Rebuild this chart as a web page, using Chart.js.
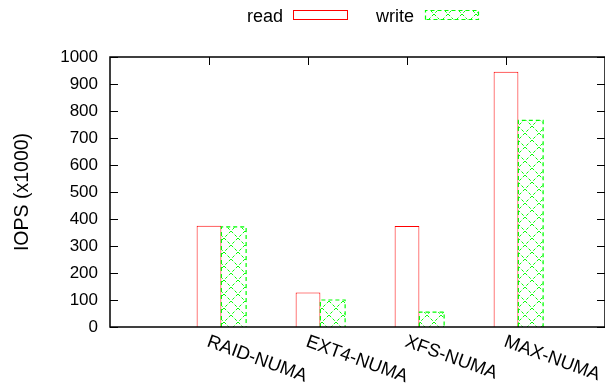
<!DOCTYPE html>
<html>
<head>
<meta charset="utf-8">
<script src="https://cdn.jsdelivr.net/npm/chart.js@4"></script>
<style>
  html, body { margin: 0; padding: 0; background: #fff; }
  canvas { display: block; }
</style>
</head>
<body>
<canvas id="chart" width="605" height="383"></canvas>
<script>
// IOPS per configuration, thousands of operations per second
const categories = ['RAID-NUMA', 'EXT4-NUMA', 'XFS-NUMA', 'MAX-NUMA'];
const readIops = [375, 128, 374, 945];
const writeIops = [371, 100, 55, 765];
const seriesNames = ['read', 'write'];
const yTicks = [0, 100, 200, 300, 400, 500, 600, 700, 800, 900, 1000];
const yTitle = 'IOPS (x1000)';

const FONT = '"Liberation Sans", Arial, Helvetica, sans-serif';
const RED = '#ff0000';
const GREEN = '#00ff00';

const canvas = document.getElementById('chart');
const ctx = canvas.getContext('2d');

// dashed cross-hatch used for the write bars
function makeHatch() {
  const s = 14;
  const tile = document.createElement('canvas');
  tile.width = s; tile.height = s;
  const g = tile.getContext('2d');
  g.strokeStyle = GREEN;
  g.lineWidth = 1;
  g.setLineDash([3, 2]);
  g.beginPath();
  g.moveTo(0, 0); g.lineTo(s, s);
  g.moveTo(s, 0); g.lineTo(0, s);
  g.stroke();
  return ctx.createPattern(tile, 'repeat');
}
const hatch = makeHatch();

function dashedOutline(c, left, top, right, bottom, closed) {
  c.save();
  c.strokeStyle = GREEN;
  c.lineWidth = 1.2;
  c.setLineDash([4, 3]);
  c.beginPath();
  c.moveTo(left, bottom);
  c.lineTo(left, top);
  c.lineTo(right, top);
  c.lineTo(right, bottom);
  if (closed) c.closePath();
  c.stroke();
  c.restore();
}

const decorations = {
  id: 'decorations',
  afterDatasetsDraw(chart) {
    const c = chart.ctx;
    const area = chart.chartArea;
    const yScale = chart.scales.y;
    const readMeta = chart.getDatasetMeta(0);
    const writeMeta = chart.getDatasetMeta(1);

    // dashed outline of the write bars
    writeMeta.data.forEach(el => {
      const p = el.getProps(['x', 'y', 'base', 'width'], true);
      dashedOutline(c, p.x - p.width / 2, p.y, p.x + p.width / 2, p.base, false);
    });

    // plot frame
    c.save();
    c.strokeStyle = '#000';
    c.lineWidth = 1.5;
    c.strokeRect(area.left, area.top, area.right - area.left, area.bottom - area.top);

    // inward ticks on left and right
    c.lineWidth = 1;
    yScale.ticks.forEach(t => {
      const y = Math.round(yScale.getPixelForValue(t.value)) + 0.5;
      c.beginPath();
      c.moveTo(area.left, y); c.lineTo(area.left + 8, y);
      c.moveTo(area.right, y); c.lineTo(area.right - 8, y);
      c.stroke();
    });

    // category ticks along the top, at the read bars
    readMeta.data.forEach(el => {
      const x = Math.round(el.x) + 0.5;
      c.beginPath();
      c.moveTo(x, area.top); c.lineTo(x, area.top + 8);
      c.stroke();
    });

    // slanted category labels
    c.fillStyle = '#000';
    c.font = '18.5px ' + FONT;
    c.textAlign = 'left';
    c.textBaseline = 'alphabetic';
    const ang = 20 * Math.PI / 180;
    readMeta.data.forEach((el, i) => {
      c.save();
      c.translate(el.x - 3, area.bottom + 19);
      c.rotate(ang);
      c.fillText(categories[i], 0, 0);
      c.restore();
    });

    // legend
    c.font = '18px ' + FONT;
    c.textAlign = 'right';
    c.fillStyle = '#000';
    c.fillText(chart.data.datasets[0].label, 283, 21.5);
    c.fillText(chart.data.datasets[1].label, 414, 21.5);
    c.strokeStyle = RED;
    c.lineWidth = 1;
    c.strokeRect(293.5, 10.5, 54, 9);
    c.fillStyle = hatch;
    c.fillRect(425, 10.5, 53, 9);
    c.restore();
    dashedOutline(c, 425.5, 10.5, 478.5, 19.5, true);
  }
};

new Chart(ctx, {
  type: 'bar',
  data: {
    datasets: [
      {
        label: seriesNames[0],
        data: readIops.map((v, i) => ({ x: i, y: v })),
        backgroundColor: '#ffffff',
        borderColor: RED,
        borderWidth: 1,
        borderSkipped: 'start',
        categoryPercentage: 0.5,
        barPercentage: 1.0
      },
      {
        label: seriesNames[1],
        data: writeIops.map((v, i) => ({ x: i, y: v })),
        backgroundColor: hatch,
        borderWidth: 0,
        categoryPercentage: 0.5,
        barPercentage: 1.0
      }
    ]
  },
  options: {
    responsive: false,
    animation: false,
    layout: { padding: { top: 57, right: 0, bottom: 0, left: 0 } },
    plugins: {
      legend: { display: false },
      tooltip: { enabled: false }
    },
    scales: {
      x: {
        type: 'linear',
        offset: false,
        min: -1.125,
        max: 3.875,
        afterBuildTicks: s => { s.ticks = categories.map((_, i) => ({ value: i })); },
        ticks: { display: false },
        grid: { display: false, drawTicks: false, offset: false },
        border: { display: false },
        afterFit: s => { s.height = 56; }
      },
      y: {
        min: 0,
        max: 1000,
        afterBuildTicks: s => { s.ticks = yTicks.map(v => ({ value: v })); },
        ticks: {
          padding: 12,
          color: '#000',
          font: { family: FONT, size: 17 },
          callback: v => String(v)
        },
        grid: { display: false, drawTicks: false },
        border: { display: false },
        title: {
          display: true,
          text: yTitle,
          color: '#000',
          font: { family: FONT, size: 19.5 },
          padding: { top: 11, bottom: 0 }
        },
        afterFit: s => { s.width = 110; }
      }
    }
  },
  plugins: [decorations]
});
</script>
</body>
</html>
